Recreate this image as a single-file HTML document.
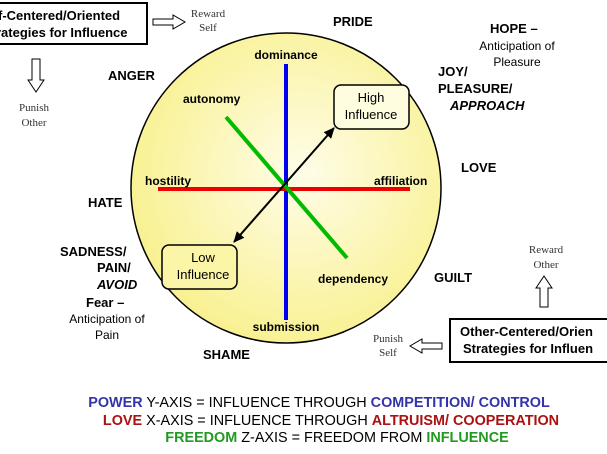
<!DOCTYPE html>
<html><head><style>body{margin:0;background:#fff}svg{display:block}</style></head><body>
<svg width="607" height="454" viewBox="0 0 607 454" xmlns="http://www.w3.org/2000/svg" font-family="Liberation Sans, sans-serif">
<defs>
<radialGradient id="g" cx="0.55" cy="0.45" r="0.6"><stop offset="0" stop-color="#fffde8"/><stop offset="1" stop-color="#f8f08c"/></radialGradient>
<marker id="ah" markerWidth="12" markerHeight="10" refX="10" refY="5" orient="auto-start-reverse" markerUnits="userSpaceOnUse"><path d="M0,0 L11,5 L0,10 Z" fill="#000"/></marker>
</defs>
<circle cx="286" cy="188" r="155" fill="url(#g)" stroke="#000" stroke-width="1.5"/>
<line x1="286" y1="64" x2="286" y2="320" stroke="#0000ee" stroke-width="4"/>
<line x1="158" y1="189" x2="410" y2="189" stroke="#ee0000" stroke-width="4"/>
<line x1="226" y1="117" x2="347" y2="258" stroke="#00bb00" stroke-width="4"/>
<line x1="234" y1="242" x2="334" y2="128" stroke="#000" stroke-width="2" marker-start="url(#ah)" marker-end="url(#ah)"/>
<rect x="334" y="85" width="75" height="44" rx="7" fill="#fffde0" stroke="#000" stroke-width="1.5"/>
<text x="371" y="102" font-size="13" text-anchor="middle">High</text>
<text x="371" y="119" font-size="13" text-anchor="middle">Influence</text>
<rect x="162" y="245" width="75" height="44" rx="7" fill="#fbf5a8" stroke="#000" stroke-width="1.5"/>
<text x="203" y="262" font-size="13" text-anchor="middle">Low</text>
<text x="203" y="279" font-size="13" text-anchor="middle">Influence</text>
<g font-size="12" font-weight="bold">
<text x="286" y="59" text-anchor="middle">dominance</text>
<text x="183" y="103">autonomy</text>
<text x="145" y="185">hostility</text>
<text x="374" y="185">affiliation</text>
<text x="318" y="283">dependency</text>
<text x="286" y="331" text-anchor="middle">submission</text>
</g>
<g font-size="13" font-weight="bold">
<text x="333" y="26">PRIDE</text>
<text x="108" y="80">ANGER</text>
<text x="490" y="33">HOPE –</text>
<text x="438" y="76">JOY/</text>
<text x="438" y="93">PLEASURE/</text>
<text x="450" y="110" font-style="italic">APPROACH</text>
<text x="461" y="172">LOVE</text>
<text x="88" y="207">HATE</text>
<text x="60" y="256">SADNESS/</text>
<text x="97" y="272">PAIN/</text>
<text x="97" y="289" font-style="italic">AVOID</text>
<text x="86" y="307">Fear –</text>
<text x="434" y="282">GUILT</text>
<text x="203" y="359">SHAME</text>
</g>
<g font-size="12" text-anchor="middle">
<text x="517" y="50">Anticipation of</text>
<text x="517" y="66">Pleasure</text>
<text x="107" y="323">Anticipation of</text>
<text x="107" y="339">Pain</text>
</g>
<g font-family="Liberation Serif, serif" font-size="11" fill="#333" text-anchor="middle">
<text x="208" y="17">Reward</text><text x="208" y="31">Self</text>
<text x="34" y="111">Punish</text><text x="34" y="126">Other</text>
<text x="546" y="253">Reward</text><text x="546" y="268">Other</text>
<text x="388" y="342">Punish</text><text x="388" y="356">Self</text>
</g>
<rect x="-5" y="3" width="152" height="41" fill="#fff" stroke="#000" stroke-width="2"/>
<text x="-2" y="20" font-size="13" font-weight="bold">f-Centered/Oriented</text>
<text x="-4" y="37" font-size="13" font-weight="bold">rategies for Influence</text>
<rect x="450" y="319" width="162" height="43" fill="#fff" stroke="#000" stroke-width="2"/>
<text x="460" y="336" font-size="13" font-weight="bold">Other-Centered/Orien</text>
<text x="463" y="353" font-size="13" font-weight="bold">Strategies for Influen</text>
<g fill="#fff" stroke="#000" stroke-width="1">
<path d="M153,19 H173 V15 L185,22 L173,29 V25 H153 Z"/>
<path d="M33,59 V80 H29 L37,92 L45,80 H41 V59 Z" transform="translate(-1,0)"/>
<path d="M542,307 V288 H538 L546,276 L554,288 H550 V307 Z" transform="translate(-2,0)"/>
<path d="M442,343 H422 V339 L410,346 L422,353 V349 H442 Z"/>
</g>
<g font-size="14.4" text-anchor="middle">
<text x="319" y="407"><tspan fill="#3333aa" font-weight="bold">POWER</tspan> Y-AXIS = INFLUENCE THROUGH <tspan fill="#3333aa" font-weight="bold">COMPETITION/ CONTROL</tspan></text>
<text x="331" y="425"><tspan fill="#aa1111" font-weight="bold">LOVE</tspan> X-AXIS = INFLUENCE THROUGH <tspan fill="#aa1111" font-weight="bold">ALTRUISM/ COOPERATION</tspan></text>
<text x="337" y="442"><tspan fill="#229922" font-weight="bold">FREEDOM</tspan> Z-AXIS = FREEDOM FROM <tspan fill="#229922" font-weight="bold">INFLUENCE</tspan></text>
</g>
</svg>
</body></html>
